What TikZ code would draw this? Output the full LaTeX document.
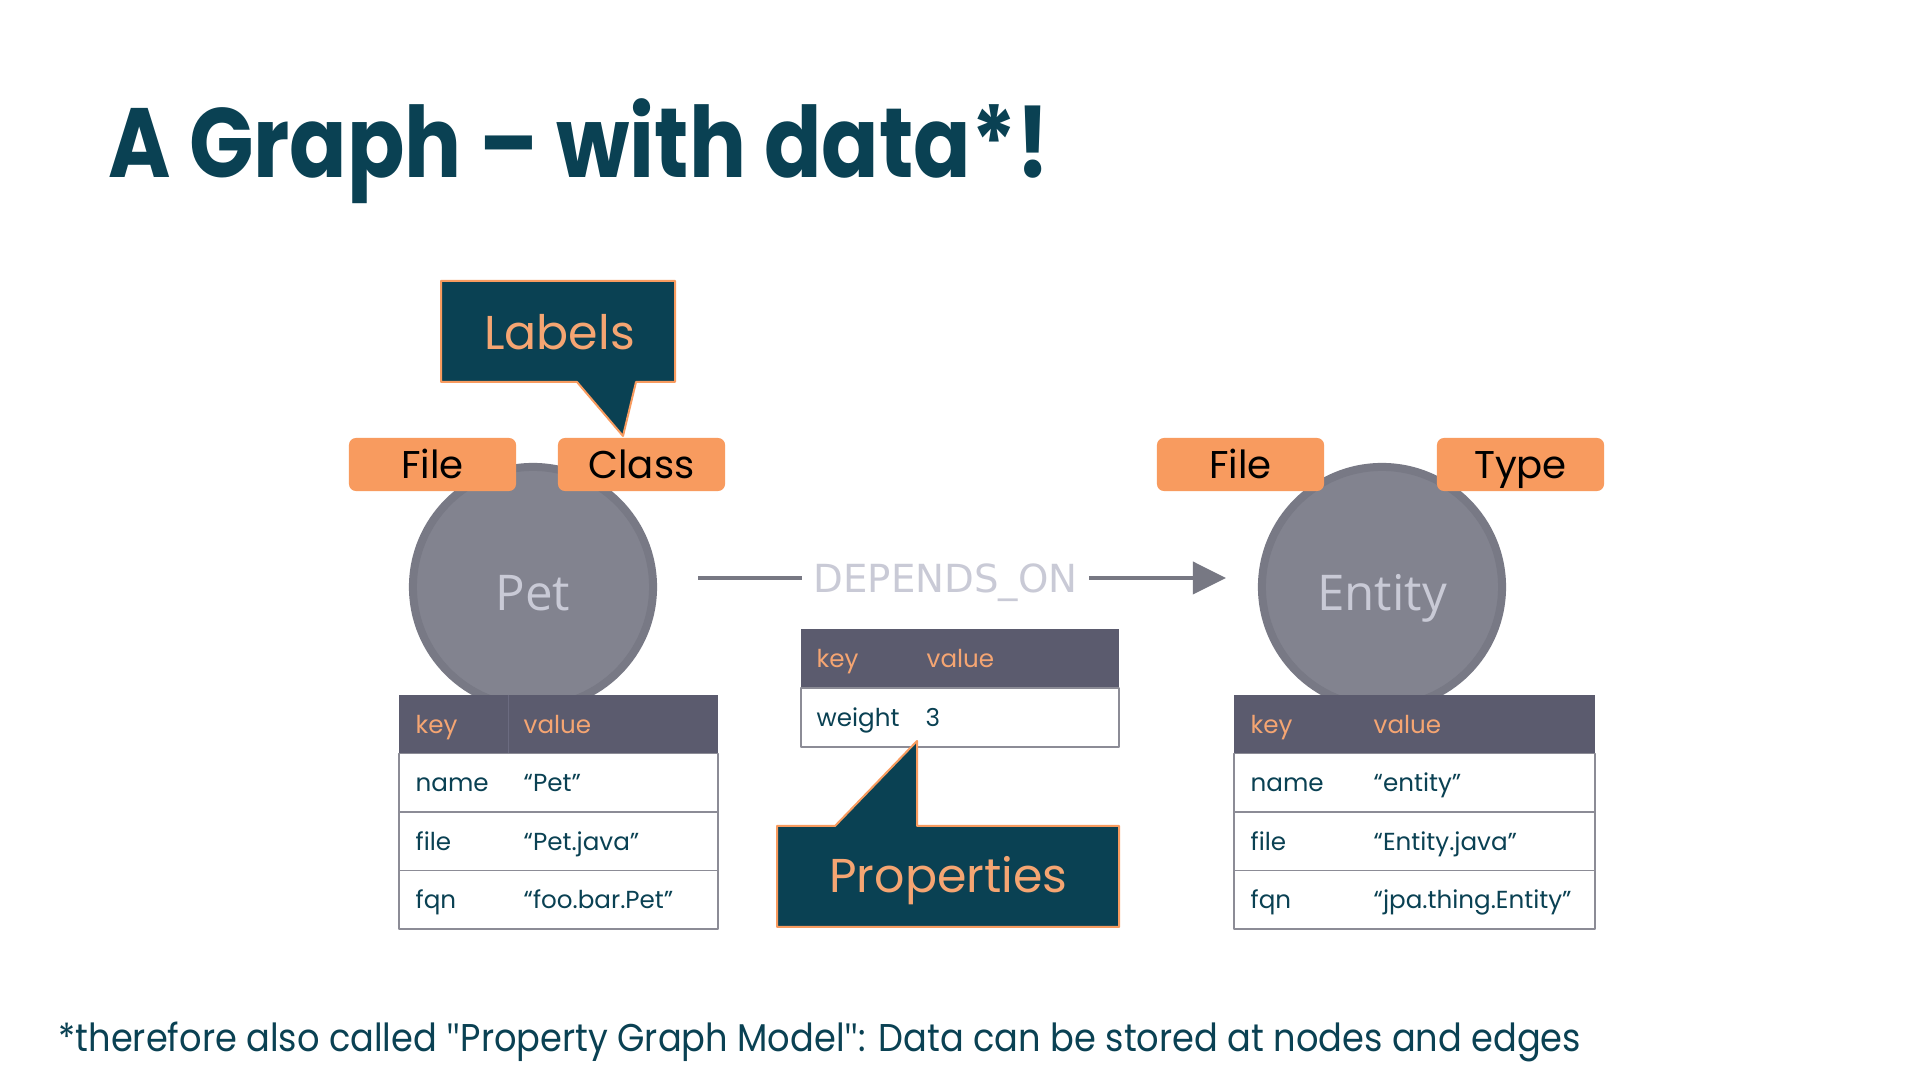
\documentclass[tikz,border=0pt]{standalone}
\usepackage{fontspec}
\usepackage{graphicx}
\setmainfont{Poppins}
\newfontfamily\opensans{Open Sans}
\newfontfamily\dejavu{DejaVu Sans}
\usetikzlibrary{arrows.meta}
\definecolor{petrol}{HTML}{0A4153}
\definecolor{naranja}{HTML}{F89B5F}
\definecolor{naranjatxt}{HTML}{F5A572}
\definecolor{kreis}{HTML}{82838F}
\definecolor{kreisrand}{HTML}{787985}
\definecolor{kopf}{HTML}{5B5B6E}
\definecolor{kopftrenn}{HTML}{6B6B80}
\definecolor{linie}{HTML}{8C8C96}
\definecolor{hell}{HTML}{C9CAD6}
\definecolor{pfeil}{HTML}{777883}
\newcommand{\geradq}{{\opensans"}}

\begin{document}
\begin{tikzpicture}[x=0.01cm, y=-0.01cm, line join=round,
  tag/.style={fill=naranja, rounded corners=0.07cm, minimum width=1.67cm, minimum height=0.53cm,
    inner sep=0pt, text=black, font=\fontsize{11}{13}\selectfont, text height=7.7pt, text depth=0pt},
  knoten/.style={circle, fill=kreis, draw=kreisrand, line width=0.08cm, minimum size=2.40cm, inner sep=0pt},
  knotenname/.style={text=hell, font=\opensans\fontsize{14}{16}\selectfont, text height=10pt, text depth=0pt},
  blase/.style={fill=petrol, draw=naranja, line width=0.02cm},
  blasetext/.style={anchor=base, text=naranjatxt, font=\fontsize{13.5}{16}\selectfont},
  kopftext/.style={anchor=base west, inner sep=0pt, text=naranjatxt, font=\fontsize{7}{8}\selectfont},
  zelltext/.style={anchor=base west, inner sep=0pt, text=petrol, font=\fontsize{7}{8}\selectfont},
  zeile/.style={draw=linie, fill=white, line width=0.015cm},
  kante/.style={draw=pfeil, line width=0.04cm}]
  % Rahmen
  \fill[white] (0,0) rectangle (1920,1080);
  \useasboundingbox (0,0) rectangle (1920,1080);

  % Titel
  \node[anchor=base west, inner sep=0pt, text=petrol, font=\fontsize{28}{34}\selectfont\bfseries]
    (titel) at (108,178) {\scalebox{0.86}[1]{A Graph – with data*!}};

  % Knoten
  \node[knoten] (pet) at (533,587) {};
  \node[knoten] (entity) at (1382,587) {};
  \node[knotenname] (petname) at (533,593) {Pet};
  \node[knotenname] (entityname) at (1382,593) {Entity};

  % Labels an den Knoten
  \node[tag] (petfile) at (432.5,464.5) {File};
  \node[tag] (petclass) at (641.5,464.5) {Class};
  \node[tag] (entityfile) at (1240.5,464.5) {File};
  \node[tag] (entitytype) at (1520.5,464.5) {Type};

  % Kante mit Beschriftung
  \node[text=hell, font=\dejavu\fontsize{11}{13}\selectfont, fill=white, inner xsep=0.11cm,
    text height=8pt, text depth=0pt] (dependson) at (945.5,578) {DEPENDS\_ON};
  \draw[kante, shorten <=0.41cm] (pet.east |- dependson.west) -- (dependson.west);
  \draw[kante, -{Triangle[length=0.33cm, width=0.32cm]}, shorten >=0.32cm]
    (dependson.east) -- (entity.west |- dependson.east);

  % Tabelle Pet
  \fill[kopf] (399,695) rectangle (718,753.5);
  \draw[kopftrenn, line width=0.01cm] (508,695) -- (508,753.5);
  \node[kopftext] (petkey) at (415,733.5) {key};
  \node[kopftext] (petvalue) at (523,733.5) {value};
  \foreach \k/\v [count=\i] in {name/“Pet”, file/“Pet.java”, fqn/“foo.bar.Pet”} {
    \draw[zeile] (399,{695+58.5*\i}) rectangle (718,{695+58.5*(\i+1)});
    \node[zelltext] (petk\i) at (415,{733.5+58.5*\i}) {\k};
    \node[zelltext] (petv\i) at (523,{733.5+58.5*\i}) {\v};
  }

  % Tabelle Entity
  \fill[kopf] (1234,695) rectangle (1595,753.5);
  \node[kopftext] (entitykey) at (1250,733.5) {key};
  \node[kopftext] (entityvalue) at (1373,733.5) {value};
  \foreach \k/\v [count=\i] in {name/“entity”, file/“Entity.java”, fqn/“jpa.thing.Entity”} {
    \draw[zeile] (1234,{695+58.5*\i}) rectangle (1595,{695+58.5*(\i+1)});
    \node[zelltext] (entityk\i) at (1250,{733.5+58.5*\i}) {\k};
    \node[zelltext] (entityv\i) at (1373,{733.5+58.5*\i}) {\v};
  }

  % Tabelle der Kante
  \fill[kopf] (801,629) rectangle (1119,688);
  \draw[zeile] (801,688) rectangle (1119,747);
  \node[kopftext] (kantekey) at (816,668) {key};
  \node[kopftext] (kantevalue) at (926,668) {value};
  \node[zelltext] (kantek1) at (816,727) {weight};
  \node[zelltext] (kantev1) at (925,727) {3};

  % Sprechblasen
  \coordinate (labeltip) at (623,436);
  \draw[blase] (441,281) -- (675,281) -- (675,382) -- (636,382) -- (labeltip)
    -- (577,382) -- (441,382) -- cycle;
  \node[blasetext] (labels) at (559.5,350) {Labels};

  \coordinate (proptip) at (917,741);
  \draw[blase] (777,826) -- (835,826) -- (proptip) -- (917,826) -- (1119,826)
    -- (1119,927) -- (777,927) -- cycle;
  \node[blasetext] (properties) at (948.5,893) {Properties};

  % Fussnote
  \node[anchor=base west, inner sep=0pt, text=petrol, font=\fontsize{11}{13}\selectfont] (fussnote)
    at (58,1052) {\scalebox{0.91}[1]{*therefore also called \geradq Property Graph Model\geradq: Data can be stored at nodes and edges}};
\end{tikzpicture}
\end{document}
